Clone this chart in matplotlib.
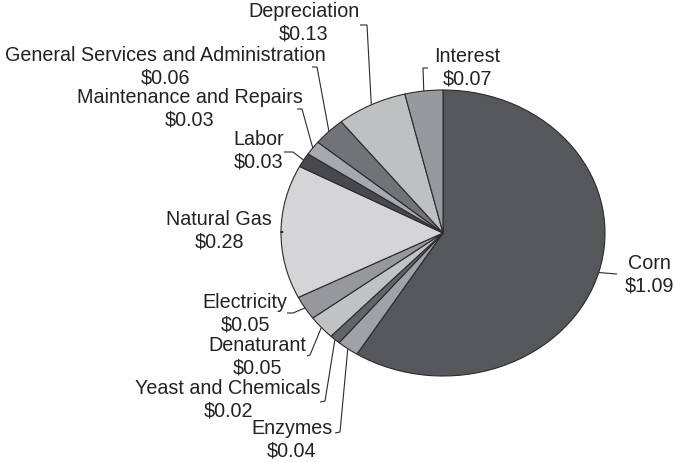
import numpy as np
import matplotlib
matplotlib.use("Agg")
import matplotlib.pyplot as plt

plt.rcParams['font.family'] = ['Liberation Sans', 'DejaVu Sans']

# costs per gallon, clockwise from the top
items = ['Corn', 'Enzymes', 'Yeast and Chemicals', 'Denaturant', 'Electricity',
         'Natural Gas', 'Labor', 'Maintenance and Repairs',
         'General Services and Administration', 'Depreciation', 'Interest']
costs = [1.09, 0.04, 0.02, 0.05, 0.05, 0.28, 0.03, 0.03, 0.06, 0.13, 0.07]
colors = ['#56575a', '#a1a2a5', '#636467', '#c1c2c4', '#97989b', '#d5d5d7',
          '#48494c', '#a8a9ac', '#727376', '#bfc0c2', '#98999c']

# layout in pixels: label centre, elbow point, tick end (None = straight line)
cx, cy, rx, ry = 443, 233, 162, 143
label_pos = [(649, 275), (292, 440), (228, 400), (257, 357), (245, 314),
             (219, 231), (259, 151), (190, 109), (165, 67), (304, 23), (467, 68)]
elbows = [(617, 274), (340, 432), (325, 401), (310, 355), (293, 313),
          (283, 232), (293, 152), (302, 109), (317, 67), (367, 25), (423, 68)]
ticks = [None, (335, 433), (320, 402), (307, 356), (287, 313),
         (280, 232), (284, 152), (297, 109), (312, 67), (360, 25), (428, 68)]


def px(x, y):
    return (x - cx) / rx, (cy - y) / ry


fig = plt.figure(figsize=(6.75, 4.62), dpi=100)
ax = fig.add_axes([0, 0, 1, 1])
wedges, _ = ax.pie(costs, colors=colors, startangle=90, counterclock=False,
                   wedgeprops=dict(edgecolor='#2b2b2d', linewidth=0.8))
ax.set_aspect('auto')
ax.set_xlim(-cx / rx, (675 - cx) / rx)
ax.set_ylim(-(462 - cy) / ry, cy / ry)
ax.axis('off')

for w, name, c, lp, el, tk in zip(wedges, items, costs, label_pos, elbows, ticks):
    mid = np.deg2rad((w.theta1 + w.theta2) / 2)
    sx, sy = np.cos(mid), np.sin(mid)
    pts = [(sx, sy), px(*el)]
    if tk is not None:
        pts.append(px(*tk))
    xs, ys = zip(*pts)
    ax.plot(xs, ys, color='#2b2b2d', lw=0.8, solid_capstyle='butt')
    tx, ty = px(*lp)
    ax.text(tx, ty, '%s\n$%.2f' % (name, c), ha='center', va='center',
            fontsize=14.2, color='#222222', linespacing=1.25)

fig.savefig('out.png', dpi=100)
